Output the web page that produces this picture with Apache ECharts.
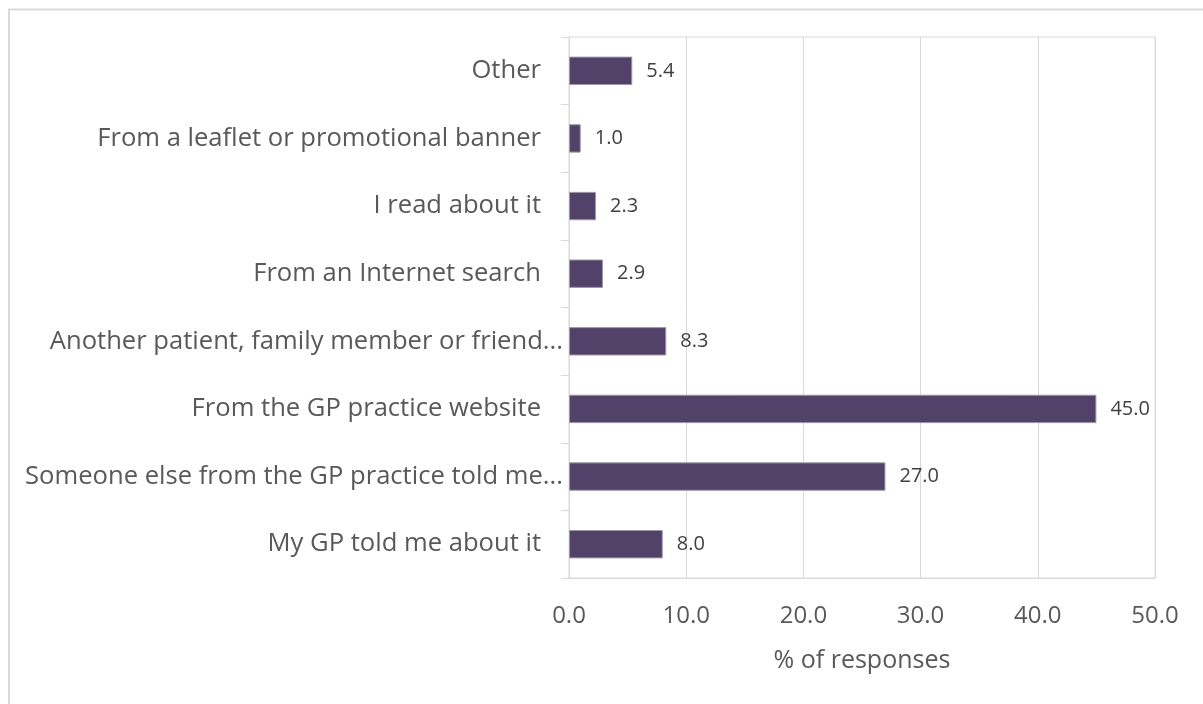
<!DOCTYPE html>
<html>
<head>
<meta charset="utf-8">
<script src="https://cdn.jsdelivr.net/npm/echarts@6/dist/echarts.min.js"></script>
<style>
  html, body { margin: 0; padding: 0; background: #ffffff; }
  #chart { width: 1203px; height: 704px; }
</style>
</head>
<body>
<div id="chart"></div>
<script>
// Response categories, listed bottom to top
const categories = [
  'My GP told me about it',
  'Someone else from the GP practice told me...',
  'From the GP practice website',
  'Another patient, family member or friend...',
  'From an Internet search',
  'I read about it',
  'From a leaflet or promotional banner',
  'Other'
];
// Share of responses (%)
const shares = [8.0, 27.0, 45.0, 8.3, 2.9, 2.3, 1.0, 5.4];
const xTicks = [0, 10, 20, 30, 40, 50];
const axisTitle = '% of responses';

const chart = echarts.init(document.getElementById('chart'), null, { renderer: 'canvas' });
const FONT = '"Open Sans", "Noto Sans", sans-serif';
const TEXT = '#595959';
const CAT_SIZE = 25.6;

chart.setOption({
  animation: false,
  backgroundColor: '#ffffff',
  graphic: [{
    type: 'rect',
    shape: { x: 9, y: 9.5, width: 1400, height: 900 },
    style: { fill: 'none', stroke: '#d9d9d9', lineWidth: 2 },
    silent: true
  }],
  grid: {
    left: 569, right: 48, top: 37, bottom: 126,
    show: true, borderColor: '#d9d9d9', borderWidth: 1, backgroundColor: 'transparent'
  },
  xAxis: {
    type: 'value',
    min: xTicks[0],
    max: xTicks[xTicks.length - 1],
    interval: xTicks[1] - xTicks[0],
    name: axisTitle,
    nameLocation: 'middle',
    nameGap: 70,
    nameTextStyle: { color: TEXT, fontSize: 25, fontFamily: FONT },
    axisLine: { show: true, lineStyle: { color: '#d9d9d9', width: 1 } },
    axisTick: { show: false },
    axisLabel: {
      color: TEXT, fontSize: 24, fontFamily: FONT, margin: 26,
      formatter: v => v.toFixed(1)
    },
    splitLine: { show: true, lineStyle: { color: '#d9d9d9', width: 1 } }
  },
  yAxis: {
    type: 'category',
    data: categories,
    axisLine: { show: true, lineStyle: { color: '#d9d9d9', width: 1 } },
    axisTick: { show: true, length: 8, lineStyle: { color: '#d9d9d9' } },
    axisLabel: {
      color: TEXT, fontSize: CAT_SIZE, fontFamily: FONT, margin: 6,
      formatter: v => v.endsWith('...') ? '{t|' + v + '}' : '{p|' + v + '}',
      rich: {
        t: { color: TEXT, fontSize: CAT_SIZE, fontFamily: FONT },
        p: { color: TEXT, fontSize: CAT_SIZE, fontFamily: FONT, padding: [0, 22, 0, 0] }
      }
    },
    splitLine: { show: false }
  },
  series: [{
    type: 'bar',
    data: shares,
    barWidth: '42%',
    itemStyle: { color: '#524169', borderColor: '#9e98a6', borderWidth: 1 },
    label: {
      show: true,
      position: 'right',
      distance: 14,
      color: '#404040',
      fontSize: 20,
      fontFamily: FONT,
      formatter: p => p.value.toFixed(1)
    }
  }]
});
</script>
</body>
</html>
